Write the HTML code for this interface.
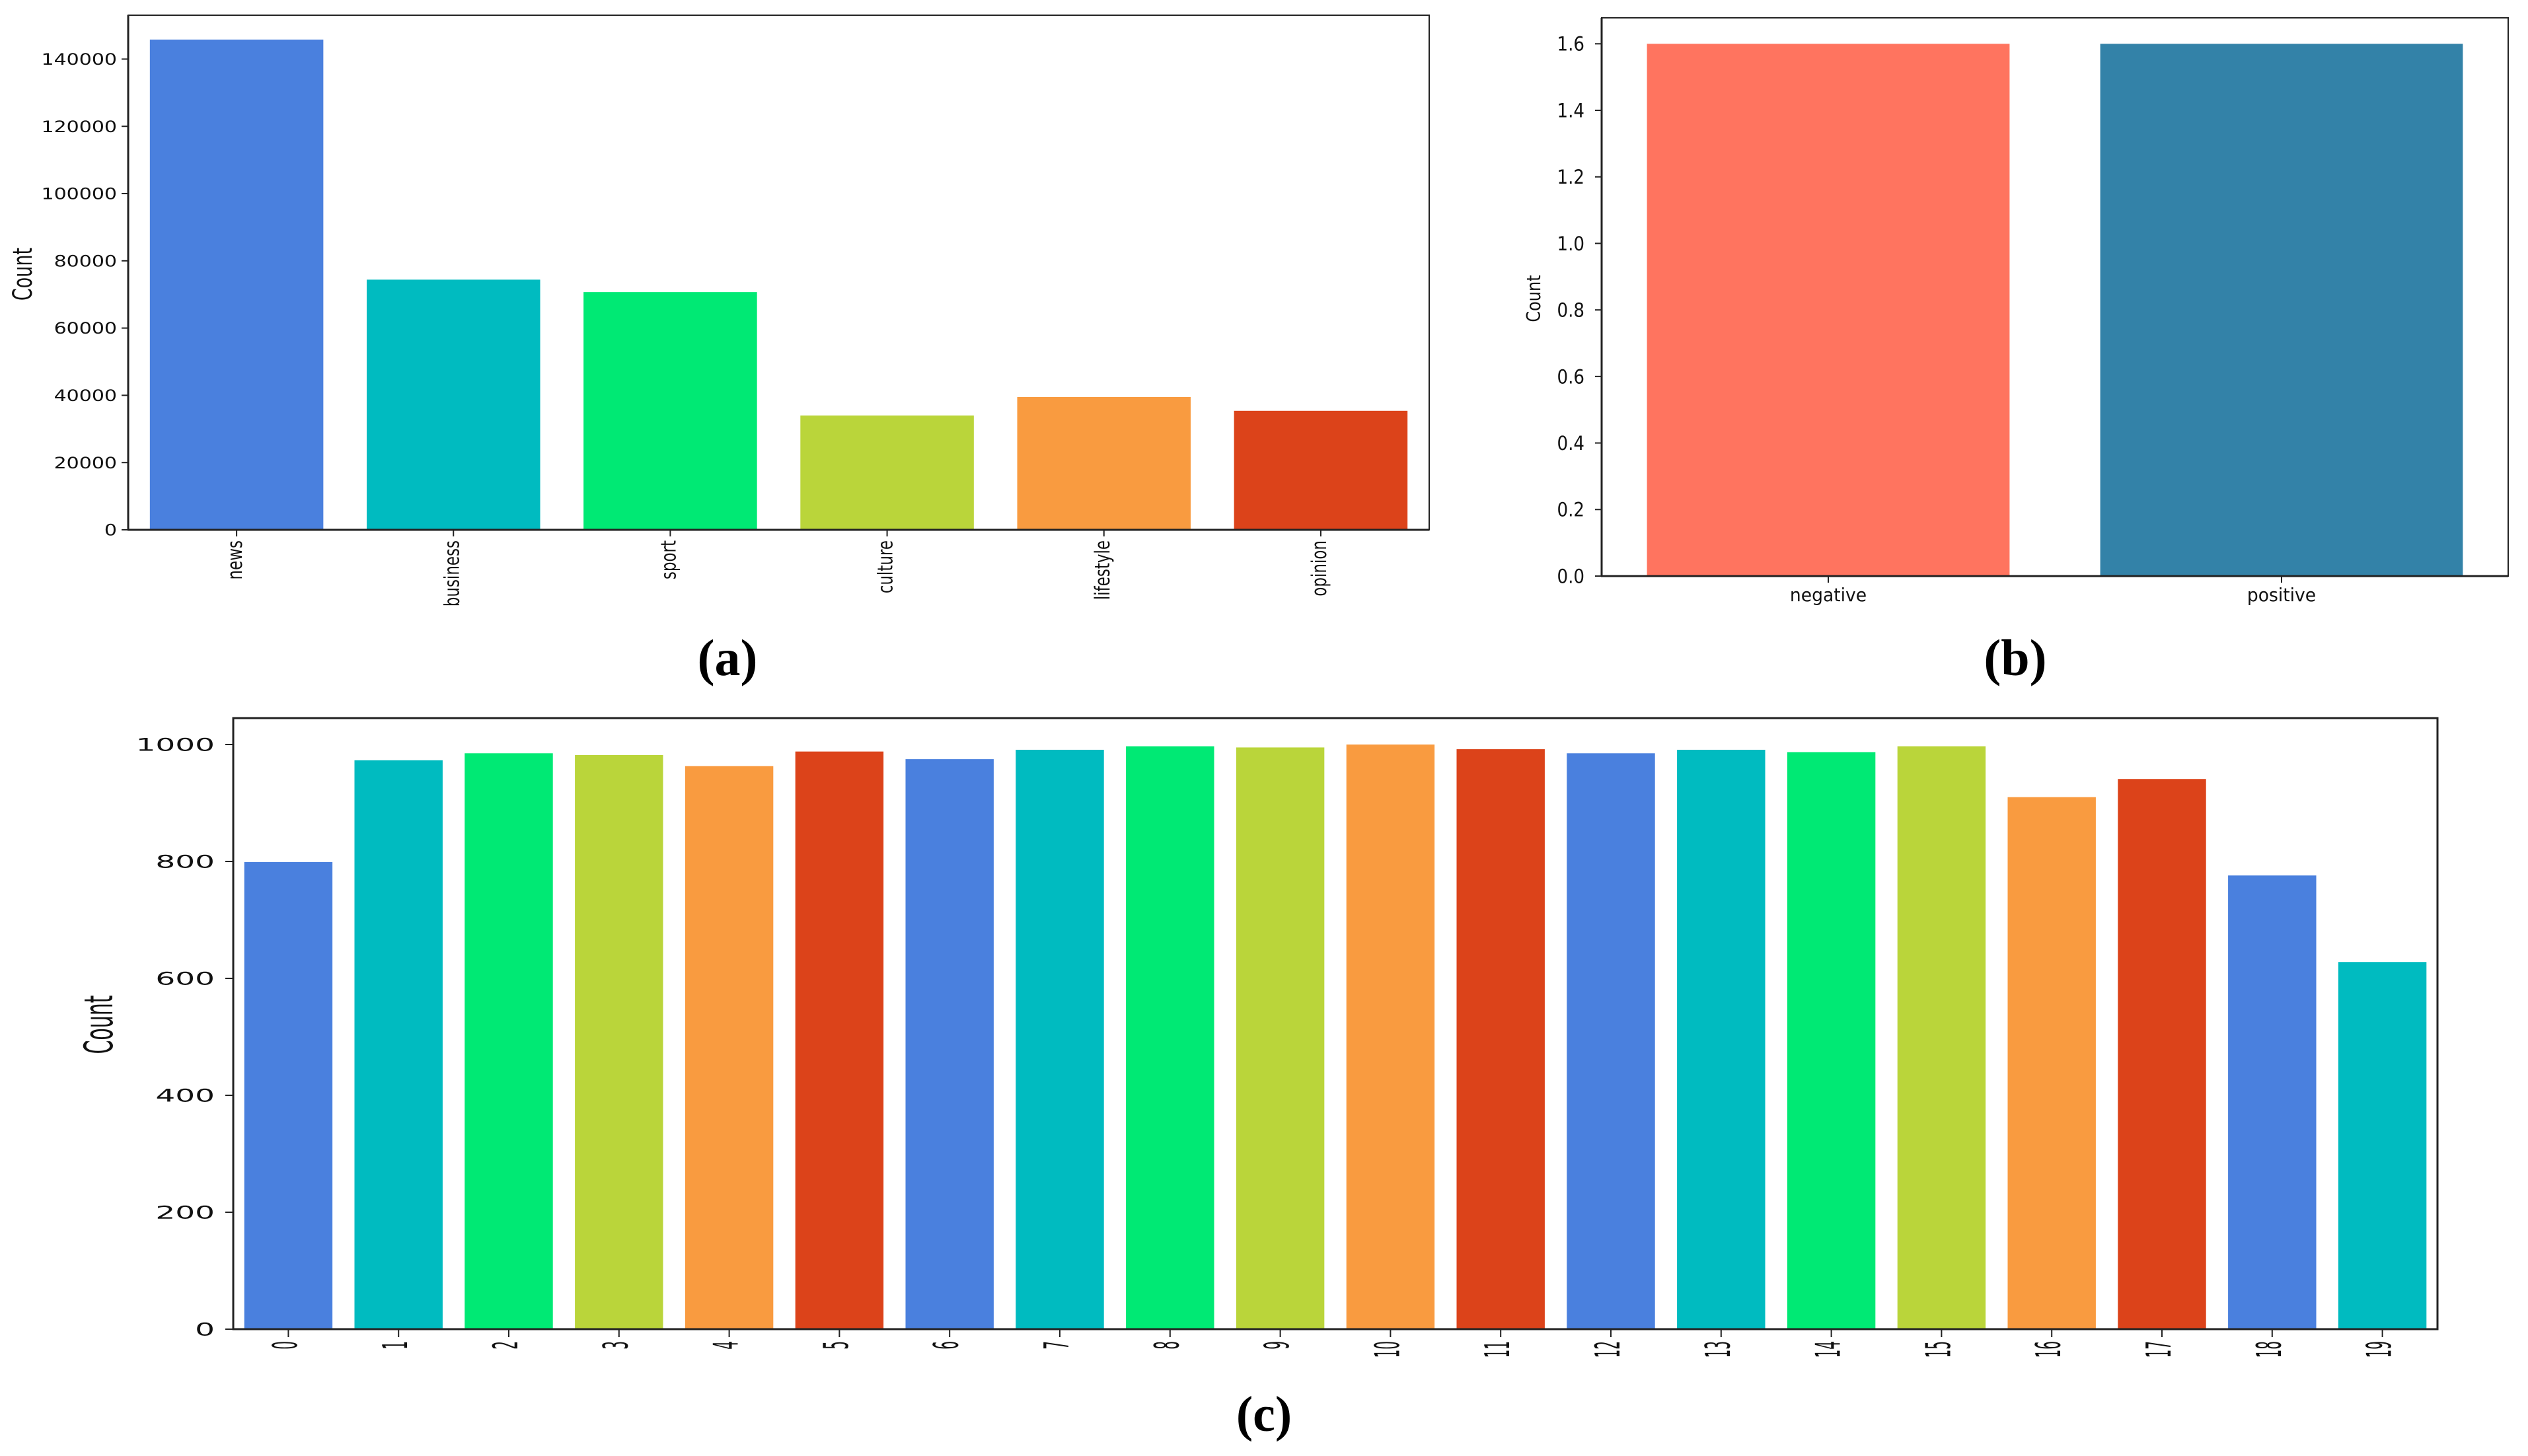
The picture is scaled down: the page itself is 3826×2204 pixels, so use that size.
<!DOCTYPE html>
<html><head><meta charset="utf-8"><style>
html,body{margin:0;padding:0;background:#fff;}
svg{display:block;}
text{font-family:"DejaVu Sans","Liberation Sans",sans-serif;fill:#111;}
.lbl{font-family:"Liberation Serif",serif;font-weight:bold;fill:#000;}
</style></head><body>
<svg id="fig" width="3826" height="2204" viewBox="0 0 3826 2204" xmlns="http://www.w3.org/2000/svg">
<g id="ga"></g>
<g id="gb"></g>
<g id="gc"></g>
<text class="lbl" x="1101" y="1022" font-size="78" text-anchor="middle">(a)</text>
<text class="lbl" x="3050" y="1022" font-size="78" text-anchor="middle">(b)</text>
<text class="lbl" x="1913" y="2166" font-size="76" text-anchor="middle">(c)</text>
</svg>
<script>
// Chart A data
const catsA = ["news","business","sport","culture","lifestyle","opinion"];
const valsA = [145800, 74400, 70700, 34000, 39500, 35400];
const ticksA = [0,20000,40000,60000,80000,100000,120000,140000];
// Chart B data
const catsB = ["negative","positive"];
const valsB = [1.6, 1.6];
const ticksB = [0.0,0.2,0.4,0.6,0.8,1.0,1.2,1.4,1.6];
// Chart C data
const catsC = ["0","1","2","3","4","5","6","7","8","9","10","11","12","13","14","15","16","17","18","19"];
const valsC = [799,973,985,982,963,988,975,991,997,995,1000,992,985,991,987,997,910,941,776,628];
const ticksC = [0,200,400,600,800,1000];

const palette = ["#4A80DE","#00BBC0","#00E974","#BAD53A","#F99B40","#DC431A"];
const NS = "http://www.w3.org/2000/svg";
function mk(parent, tag, attrs){
  const e = document.createElementNS(NS, tag);
  for (const k in attrs) e.setAttribute(k, attrs[k]);
  parent.appendChild(e);
  return e;
}

function drawChart(g, cfg){
  const {L,R,T,B,ymax,cats,vals,ticks,colors} = cfg;
  const n = cats.length, step = (R-L)/n;
  const xs = i => L + step*(i+0.5);
  const ys = v => B - (v/ymax)*(B-T);
  vals.forEach((v,i)=>{
    const r = mk(g,'rect',{x:xs(i)-0.4*step, y:ys(v), width:0.8*step, height:B-ys(v), fill:colors[i%colors.length]});
    
    
  });
  const f = mk(g,'rect',{x:L,y:T,width:R-L,height:B-T,fill:'none',stroke:'#222','stroke-width':cfg.frameW||2});
  
  
  const xa = mk(g,'line',{x1:L-1,x2:R,y1:B,y2:B,stroke:'#222','stroke-width':3});
  
  
  const ya = mk(g,'line',{x1:L,x2:L,y1:T,y2:B,stroke:'#222','stroke-width':3});
  
  
  ticks.forEach(t=>{
    const y = ys(t);
    const tk = mk(g,'line',{x1:L-cfg.tickLen,x2:L,y1:y,y2:y,stroke:'#222','stroke-width':2});
    
    
    const tx = mk(g,'text',{transform:`translate(${cfg.ytx},${y+cfg.yFont*0.36}) scale(${cfg.ySx},${cfg.ySy||1})`,'font-size':cfg.yFont,'text-anchor':'end'});
    tx.textContent = cfg.fmt(t);
    
    
  });
  cats.forEach((c,i)=>{
    const x = xs(i);
    const tk = mk(g,'line',{x1:x,x2:x,y1:B,y2:B+cfg.tickLen,stroke:'#222','stroke-width':2});
    
    
    let tx;
    if (cfg.rot){
      tx = mk(g,'text',{transform:`translate(${x+cfg.rotDx},${cfg.xLabY}) scale(${cfg.rSx},${cfg.rSy}) rotate(-90)`,'font-size':cfg.xFont,'text-anchor':'end'});
    } else {
      tx = mk(g,'text',{transform:`translate(${x},${cfg.xLabY}) scale(${cfg.xSx||1},1)`,'font-size':cfg.xFont,'text-anchor':'middle'});
    }
    tx.textContent = c;
    
    
  });
  const yt = mk(g,'text',{transform:`translate(${cfg.ytitleX},${cfg.ytitleY}) scale(${cfg.ytSx},1) rotate(-90)`,'font-size':cfg.ytFont,'text-anchor':'middle'});
  yt.textContent = 'Count';
  
  
}

drawChart(document.getElementById('ga'), {
  L:194,R:2163,T:23,B:802,ymax:153050,cats:catsA,vals:valsA,ticks:ticksA,colors:palette,
  tickLen:10, ytx:177, yFont:24, ySx:1.25, fmt:t=>String(t),
  rot:true, rotDx:8, xLabY:818, xFont:23, rSx:1.35, rSy:1,
  ytitleX:48, ytitleY:415, ytSx:1.5, ytFont:27
});
drawChart(document.getElementById('gb'), {
  L:2424,R:3796,T:27,B:872,ymax:1.6*(872-27)/(872-66.3),cats:catsB,vals:valsB,ticks:ticksB,colors:["#FF745F","#3382A8"],
  tickLen:10, ytx:2398, yFont:29, ySx:0.9, fmt:t=>t.toFixed(1),
  rot:false, xLabY:910, xFont:28, xSx:0.95,
  ytitleX:2331, ytitleY:452, ytSx:1.2, ytFont:24
});
drawChart(document.getElementById('gc'), {
  L:353,R:3689,T:1087,B:2012,ymax:1000*(2012-1087)/(2012-1127),cats:catsC,vals:valsC,ticks:ticksC,colors:palette,
  tickLen:12, ytx:325, yFont:27, ySx:1.74, fmt:t=>String(t), frameW:3,
  rot:true, rotDx:13, xLabY:2030, xFont:20, rSx:2.6, rSy:1,
  ytitleX:170, ytitleY:1551, ytSx:2.0, ytFont:30
});
</script>
</body></html>
